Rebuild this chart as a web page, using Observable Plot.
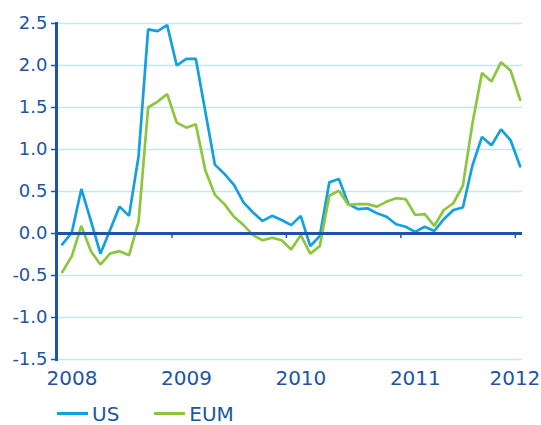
<!DOCTYPE html>
<html>
<head>
<meta charset="utf-8">
<script src="https://cdn.jsdelivr.net/npm/d3@7"></script>
<script src="https://cdn.jsdelivr.net/npm/@observablehq/plot@0.6"></script>
<style>
  html, body { margin: 0; padding: 0; background: #ffffff; }
  #chart { width: 541px; }
  .legend { display: flex; align-items: center; height: 33px; box-sizing: border-box;
            padding-left: 57px; padding-top: 10px; font-family: "DejaVu Sans", sans-serif;
            font-size: 20px; color: #1d55a2; }
  .item { display: flex; align-items: center; line-height: 1; }
  .sw { display: inline-block; width: 31px; height: 3px; margin-right: 4px; }
</style>
</head>
<body>
<div id="chart"></div>
<script>
// Monthly observations, Jan 2008 – Jan 2012
const months = ["2008-01","2008-02","2008-03","2008-04","2008-05","2008-06","2008-07","2008-08","2008-09","2008-10","2008-11","2008-12",
                "2009-01","2009-02","2009-03","2009-04","2009-05","2009-06","2009-07","2009-08","2009-09","2009-10","2009-11","2009-12",
                "2010-01","2010-02","2010-03","2010-04","2010-05","2010-06","2010-07","2010-08","2010-09","2010-10","2010-11","2010-12",
                "2011-01","2011-02","2011-03","2011-04","2011-05","2011-06","2011-07","2011-08","2011-09","2011-10","2011-11","2011-12",
                "2012-01"];
const us  = [-0.13, 0.01, 0.53, 0.15, -0.24, 0.04, 0.32, 0.21, 0.92, 2.43, 2.41, 2.48,
              2.00, 2.08, 2.08, 1.45, 0.82, 0.71, 0.58, 0.37, 0.25, 0.15, 0.21, 0.16,
              0.10, 0.21, -0.15, -0.03, 0.61, 0.65, 0.35, 0.29, 0.30, 0.24, 0.20, 0.11,
              0.08, 0.02, 0.08, 0.03, 0.17, 0.28, 0.31, 0.81, 1.15, 1.05, 1.24, 1.11,
              0.80];
const eum = [-0.46, -0.27, 0.09, -0.21, -0.37, -0.24, -0.21, -0.26, 0.14, 1.50, 1.57, 1.66,
              1.32, 1.26, 1.30, 0.75, 0.46, 0.35, 0.20, 0.10, -0.02, -0.08, -0.05, -0.08,
             -0.19, -0.02, -0.24, -0.15, 0.45, 0.51, 0.34, 0.35, 0.35, 0.32, 0.38, 0.42,
              0.41, 0.22, 0.23, 0.09, 0.28, 0.36, 0.57, 1.31, 1.91, 1.81, 2.04, 1.94,
              1.59];
const yTicks = [-1.5, -1.0, -0.5, 0.0, 0.5, 1.0, 1.5, 2.0, 2.5];
const years = [2008, 2009, 2010, 2011, 2012];
const seriesNames = ["US", "EUM"];

const dark = "#1d55a2";
const blue = "#12a0df";
const green = "#8cc63f";
const gridColor = "#c4e5f4";

// month index -> centre of the month band
const rows = months.map((m, i) => ({i: i + 0.5, us: us[i], eum: eum[i]}));
const yearPos = years.map(y => (y - 2008) * 12);
const fmtYear = d => String(2008 + d / 12);

const plot = Plot.plot({
  width: 541,
  height: 392,
  marginLeft: 57,
  marginRight: 19,
  marginTop: 23,
  marginBottom: 33,
  style: {fontFamily: "DejaVu Sans, sans-serif", background: "#ffffff", color: dark, overflow: "visible"},
  x: {domain: [0, 48.75], label: null},
  y: {domain: [-1.5, 2.5], label: null},
  marks: [
    Plot.gridY(yTicks, {stroke: gridColor, strokeOpacity: 1, strokeWidth: 1.4}),
    Plot.axisY(yTicks, {label: null, tickSize: 6, tickPadding: 4, fontSize: 18, color: dark, strokeWidth: 1.5,
                        tickFormat: d => d.toFixed(1)}),
    Plot.axisX(yearPos.slice(0, 4), {label: null, tickSize: 0, tickPadding: 11, fontSize: 20, color: dark,
                                     textAnchor: "start", dx: -11, tickFormat: fmtYear}),
    Plot.axisX(yearPos.slice(4), {label: null, tickSize: 0, tickPadding: 11, fontSize: 20, color: dark,
                                  textAnchor: "end", dx: 25, tickFormat: fmtYear}),
    Plot.lineY(rows, {x: "i", y: "us", stroke: blue, strokeWidth: 2.7, strokeLinejoin: "miter"}),
    Plot.lineY(rows, {x: "i", y: "eum", stroke: green, strokeWidth: 2.7, strokeLinejoin: "miter"}),
    Plot.ruleY([0], {stroke: dark, strokeWidth: 3}),
    Plot.ruleX(yearPos.slice(1), {y1: 0, y2: 0, insetBottom: -5, stroke: dark, strokeWidth: 1.5}),
    Plot.ruleX([0], {stroke: dark, strokeWidth: 3, dx: -1, insetTop: -1, insetBottom: -2})
  ]
});

const chart = document.getElementById("chart");
chart.appendChild(plot);

const legend = document.createElement("div");
legend.className = "legend";
const colors = [blue, green];
seriesNames.forEach((name, k) => {
  const item = document.createElement("span");
  item.className = "item";
  if (k > 0) item.style.marginLeft = "35px";
  const sw = document.createElement("span");
  sw.className = "sw";
  sw.style.background = colors[k];
  const t = document.createElement("span");
  t.textContent = name;
  item.appendChild(sw);
  item.appendChild(t);
  legend.appendChild(item);
});
chart.appendChild(legend);
</script>
</body>
</html>
